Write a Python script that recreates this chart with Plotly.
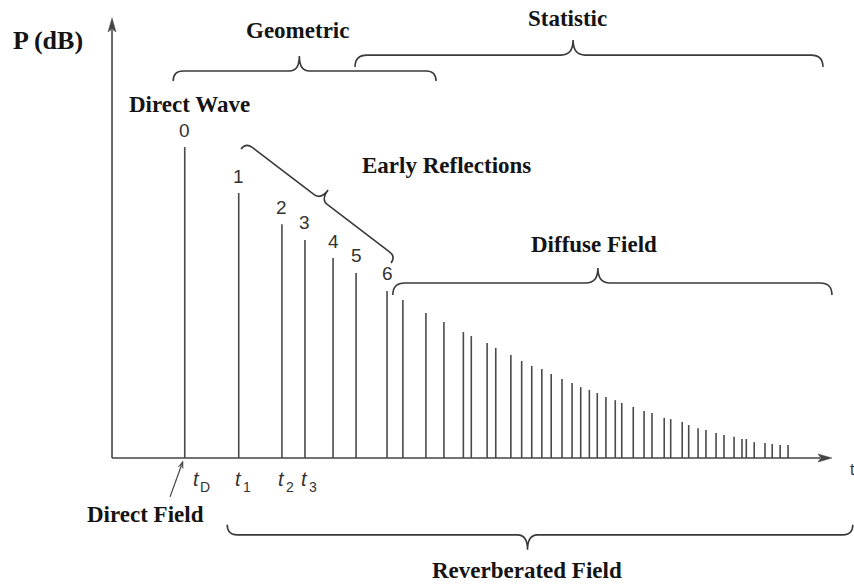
import math
import plotly.graph_objects as go

# ---------------- data ----------------
early_labels = ["0", "1", "2", "3", "4", "5", "6"]
early_times = [10.1, 17.6, 23.6, 26.8, 30.7, 33.9, 38.2]
early_levels = [100.0, 85.2, 75.2, 70.1, 64.3, 59.5, 53.7]

diffuse_times = [40.4, 43.6, 46.1, 48.8, 49.9, 52.1, 53.3, 55.4, 56.9, 58.3,
                 59.7, 61.0, 62.5, 63.9, 65.1, 66.3, 67.4, 68.6, 69.9, 70.8,
                 72.4, 73.9, 75.0, 76.7, 77.6, 79.2, 80.1, 81.4, 82.5, 83.9,
                 85.0, 86.4, 87.5, 88.1, 89.2, 90.7, 91.7, 92.8, 93.9]
diffuse_levels = [50.8, 46.6, 43.7, 40.5, 39.2, 37.0, 35.4, 33.1, 31.2, 29.6,
                  28.6, 27.0, 25.4, 24.1, 22.8, 21.9, 20.9, 19.6, 18.6, 17.7,
                  16.4, 15.1, 14.5, 12.9, 12.5, 11.6, 10.6, 9.6, 9.0, 8.0,
                  7.4, 6.8, 6.1, 6.1, 5.1, 4.8, 4.5, 4.2, 4.2]

tick_index = [0, 1, 2, 3]
tick_subscripts = ["D", "1", "2", "3"]

# ---------------- layout constants ----------------
W, H = 854, 585
X_RANGE = [-15.56, 103.06]
Y_RANGE = [-40.84, 147.27]
T_END = 100.0
P_TOP = 141.5

LINE_COLOR = "#4a4a4a"
AXIS_COLOR = "#444444"
TEXT_COLOR = "#141414"
SERIF = "Liberation Serif, Times New Roman, serif"
SANS = "Liberation Sans, Arial, sans-serif"


def to_px(t, p):
    return ((t - X_RANGE[0]) / (X_RANGE[1] - X_RANGE[0]) * W,
            (Y_RANGE[1] - p) / (Y_RANGE[1] - Y_RANGE[0]) * H)


def to_data(x, y):
    return (X_RANGE[0] + x / W * (X_RANGE[1] - X_RANGE[0]),
            Y_RANGE[1] - y / H * (Y_RANGE[1] - Y_RANGE[0]))


def fmt(x, y):
    t, p = to_data(x, y)
    return f"{t:.4f},{p:.4f}"


def brace_path(t0, p0, t1, p1, r, tip, frac=0.5, side=1):
    x0, y0 = to_px(t0, p0)
    x1, y1 = to_px(t1, p1)
    L = math.hypot(x1 - x0, y1 - y0)
    ux, uy = (x1 - x0) / L, (y1 - y0) / L
    nx, ny = uy * side, -ux * side

    def P(a, b):
        return fmt(x0 + ux * a + nx * b, y0 + uy * a + ny * b)

    m = L * frac
    return (f"M {P(0, 0)} Q {P(0, r)} {P(r, r)} L {P(m - r, r)} "
            f"Q {P(m, r)} {P(m, r + tip)} Q {P(m, r)} {P(m + r, r)} "
            f"L {P(L - r, r)} Q {P(L, r)} {P(L, 0)}")


def arrow_shapes(t0, p0, t1, p1, width, head_len, head_w, color):
    """line from (t0,p0) to (t1,p1) with a filled head at (t1,p1)"""
    x0, y0 = to_px(t0, p0)
    x1, y1 = to_px(t1, p1)
    L = math.hypot(x1 - x0, y1 - y0)
    ux, uy = (x1 - x0) / L, (y1 - y0) / L
    nx, ny = -uy, ux
    bx, by = x1 - ux * head_len, y1 - uy * head_len
    line = dict(type="path", xref="x", yref="y",
                path=f"M {fmt(x0, y0)} L {fmt(bx + ux * 2, by + uy * 2)}",
                line=dict(color=color, width=width))
    head = dict(type="path", xref="x", yref="y",
                path=(f"M {fmt(x1, y1)} L {fmt(bx + nx * head_w, by + ny * head_w)} "
                      f"L {fmt(bx + ux * 3, by + uy * 3)} "
                      f"L {fmt(bx - nx * head_w, by - ny * head_w)} Z"),
                fillcolor=color, line=dict(color=color, width=0.5))
    return [line, head]


# braces: (t0, p0, t1, p1, r, tip, frac, side)
braces = [
    (8.5, 121.2, 45.0, 121.2, 10, 15, 0.48, 1),      # Geometric
    (33.75, 125.7, 98.75, 125.7, 12, 15, 0.466, 1),  # Statistic
    (17.92, 99.36, 38.75, 62.70, 8, 12, 0.5, 1),     # Early reflections
    (39.0, 52.4, 100.0, 52.4, 12, 15, 0.467, 1),     # Diffuse field
    (16.0, -21.5, 102.9, -21.5, 10, 15, 0.48, -1),   # Reverberated field
]

# ---------------- figure ----------------
def stems(ts, ps):
    xs, ys = [], []
    for t, p in zip(ts, ps):
        xs += [t, t, None]
        ys += [0, p, None]
    return xs, ys


fig = go.Figure()
ex, ey = stems(early_times, early_levels)
dx, dy = stems(diffuse_times, diffuse_levels)
fig.add_trace(go.Scatter(x=ex, y=ey, mode="lines",
                         line=dict(color=LINE_COLOR, width=1.6),
                         hoverinfo="skip", showlegend=False))
fig.add_trace(go.Scatter(x=dx, y=dy, mode="lines",
                         line=dict(color=LINE_COLOR, width=1.6),
                         hoverinfo="skip", showlegend=False))

shapes = []
for b in braces:
    shapes.append(dict(type="path", path=brace_path(*b), xref="x", yref="y",
                       line=dict(color="#3a3a3a", width=1.6)))
# axes with arrowheads
shapes += arrow_shapes(0, 0, T_END, 0, 1.6, 14, 4, AXIS_COLOR)
shapes += arrow_shapes(0, 0, 0, P_TOP, 1.6, 14, 4, AXIS_COLOR)
# direct-field pointer
shapes += arrow_shapes(8.06, -12.5, 9.86, -1.0, 1.2, 7, 2.5, AXIS_COLOR)

annotations = []
# reflection numbers
for lab, t, p in zip(early_labels, early_times, early_levels):
    annotations.append(dict(x=t, y=p, xref="x", yref="y", text=lab,
                            showarrow=False, yanchor="middle", yshift=17,
                            font=dict(family=SANS, size=19, color="#333")))

# time tick labels: italic t plus a small subscript
for i, sub in zip(tick_index, tick_subscripts):
    xs = 12 if i == 0 else 0
    annotations.append(dict(x=early_times[i], y=0, xref="x", yref="y",
                            text="t", showarrow=False, yanchor="middle",
                            yshift=-21, xshift=xs,
                            font=dict(family=SANS, size=20, color="#333",
                                      style="italic")))
    annotations.append(dict(x=early_times[i], y=0, xref="x", yref="y",
                            text=sub, showarrow=False, yanchor="middle",
                            yshift=-29, xshift=xs + 8,
                            font=dict(family=SANS, size=14, color="#333")))
annotations.append(dict(x=T_END, y=0, xref="x", yref="y", text="t",
                        showarrow=False, xanchor="left", xshift=16, yshift=-12,
                        font=dict(family=SANS, size=16, color="#333")))

# titles
titles = [
    ("P (dB)", -8.9, 134.4, 26),
    ("Geometric", 25.8, 137.6, 23),
    ("Statistic", 63.3, 141.2, 23),
    ("Direct Wave", 10.8, 113.8, 23),
    ("Early Reflections", 46.4, 93.9, 23),
    ("Diffuse Field", 66.9, 68.8, 23),
    ("Direct Field", 4.6, -18.3, 23),
    ("Reverberated Field", 57.6, -36.3, 23),
]
for txt, t, p, s in titles:
    annotations.append(dict(x=t, y=p, xref="x", yref="y", text=txt,
                            showarrow=False, xanchor="center", yanchor="middle",
                            font=dict(family=SERIF, size=s, color=TEXT_COLOR,
                                      weight="bold")))

fig.update_layout(
    width=W, height=H,
    margin=dict(l=0, r=0, t=0, b=0),
    paper_bgcolor="white", plot_bgcolor="white",
    xaxis=dict(range=X_RANGE, visible=False, fixedrange=True),
    yaxis=dict(range=Y_RANGE, visible=False, fixedrange=True),
    shapes=shapes, annotations=annotations,
    showlegend=False,
)

fig.write_html("out.html", config={"displayModeBar": False},
               post_script="document.body.style.margin='0';")
